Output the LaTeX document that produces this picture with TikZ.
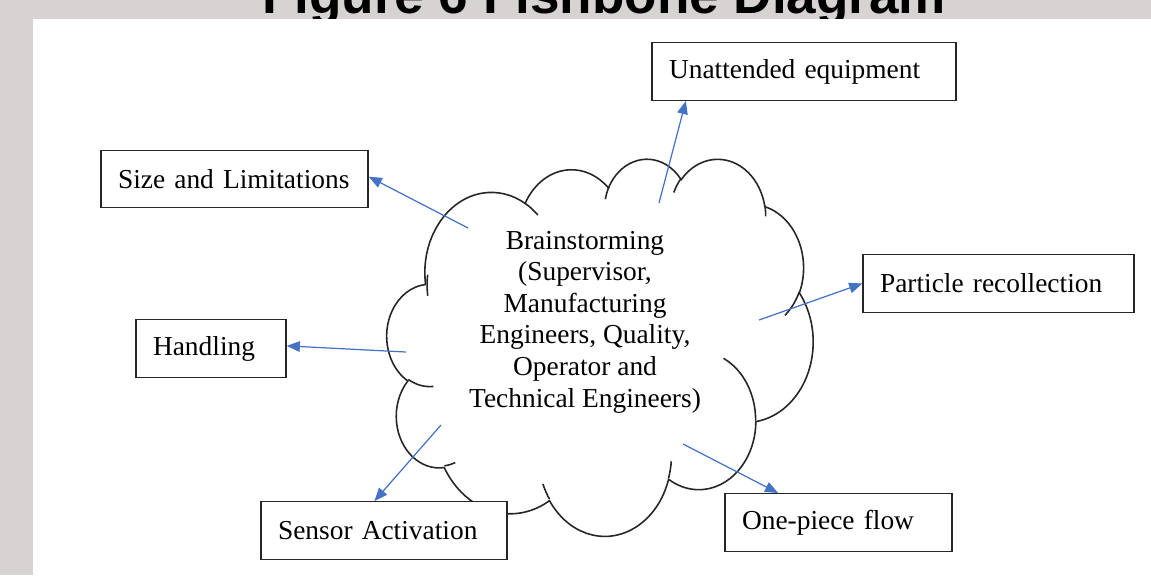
\documentclass[tikz,border=0pt]{standalone}
\usepackage{fontspec}
\setmainfont{Liberation Serif}
\newfontfamily\titlefont{Liberation Sans}
\usetikzlibrary{arrows.meta}
\definecolor{pagegray}{RGB}{215,211,211}
\definecolor{causeblue}{RGB}{68,114,196}
\def\cloudarc#1#2#3#4{arc[x radius=#1, y radius=#2, start angle={atan2(#1*sin(#3),#2*cos(#3))}, delta angle={mod(atan2(#1*sin(#3+#4),#2*cos(#3+#4))-atan2(#1*sin(#3),#2*cos(#3))+720,360)}]}
\tikzset{
	causebox/.style={draw=black!85, fill=white, line width=0.8pt, minimum height=1.15cm, inner xsep=0.34cm, text width=#1, align=left, font=\fontsize{15.6}{18}\selectfont},
	causearrow/.style={draw=causeblue, line width=0.7pt, -{Triangle[length=7.5pt, width=6pt]}}
}

\begin{document}
\begin{tikzpicture}[x=0.02cm, y=-0.02cm]
			%%%%% START %%%%%
			
			\clip (0, 0) rectangle (1151, 575);
			\fill[pagegray] (0, 0) rectangle (1151, 575);
			\node[font=\titlefont\bfseries\fontsize{30.2}{36}\selectfont, anchor=base] (title) at (604, 13.3) {Figure 6 Fishbone Diagram};
			\fill[white] (33, 19) rectangle (1151, 575);
			
			% cloud
			\begin{scope}[shift={(387, 158)}, xscale=9.861, yscale=8.727, line width=0.9pt, draw=black!85]
				\draw[fill=white] (3.900, 14.370) \cloudarc{6.753}{9.190}{-190.4875}{123.7805}
					\cloudarc{5.333}{7.267}{-144.1024}{89.9452}
					\cloudarc{4.365}{5.945}{-145.8079}{99.7230}
					\cloudarc{4.857}{6.595}{-130.9861}{117.2417}
					\cloudarc{5.333}{7.273}{-78.7089}{109.0269}
					\cloudarc{6.775}{9.220}{-46.2673}{130.2690}
					\cloudarc{5.785}{7.867}{0.6250}{114.0333}
					\cloudarc{6.752}{9.215}{22.4516}{115.1726}
					\cloudarc{7.720}{10.543}{66.2426}{75.7110}
					\cloudarc{4.360}{5.918}{-274.9421}{146.7356}
					\cloudarc{4.345}{5.945}{-246.8285}{152.5189} -- cycle;
				\draw (4.693, 26.177) \cloudarc{4.345}{5.945}{86.7420}{26.4295};
				\draw (6.928, 34.899) \cloudarc{4.360}{5.918}{73.6105}{11.4475};
				\draw (16.478, 39.090) \cloudarc{6.752}{9.215}{137.6242}{14.0811};
				\draw (28.827, 34.751) \cloudarc{6.752}{9.215}{6.4533}{15.9984};
				\draw (34.129, 22.954) \cloudarc{5.785}{7.867}{-70.2924}{70.9174};
				\draw (41.798, 15.354) \cloudarc{5.333}{7.273}{30.3180}{27.7515};
				\draw (38.324, 5.426) \cloudarc{4.857}{6.595}{-13.7443}{14.8589};
				\draw (29.078, 3.952) \cloudarc{4.857}{6.595}{-149.1815}{18.1954};
				\draw (22.141, 4.720) \cloudarc{4.365}{5.945}{-163.4943}{17.6864};
				\draw (14.000, 5.192) \cloudarc{6.753}{9.190}{-66.7070}{12.3194};
				\draw (4.127, 15.789) \cloudarc{6.753}{9.190}{-190.4875}{20.4388};
			\end{scope}
			
			\node[align=center, font=\fontsize{15.6}{18}\selectfont] (brain) at (585, 322) {Brainstorming\\(Supervisor,\\Manufacturing\\Engineers, Quality,\\Operator and\\Technical Engineers)};
			
			% causes
			\node[causebox=4.66cm] (size) at (234.5, 179) {Size and Limitations};
			\node[causebox=2.32cm] (hand) at (211, 348.5) {Handling};
			\node[causebox=4.24cm] (sens) at (384, 530.5) {Sensor Activation};
			\node[causebox=5.40cm] (unatt) at (804, 71.5) {Unattended equipment};
			\node[causebox=4.74cm] (part) at (998.5, 283.5) {Particle recollection};
			\node[causebox=3.86cm] (one) at (838.5, 522.5) {One-piece flow};
			
			\coordinate (sizeFrom) at (468, 228);
			\coordinate (handFrom) at (406, 352);
			\coordinate (sensFrom) at (441, 425);
			\coordinate (unattFrom) at (659, 203);
			\coordinate (partFrom) at (759, 320);
			\coordinate (oneFrom) at (683, 444);
			
			\draw[causearrow] (sizeFrom) -- (size.1.3);
			\draw[causearrow] (handFrom) -- (hand.2.6);
			\draw[causearrow] (sensFrom) -- (sens.108.7);
			\draw[causearrow] (unattFrom) -- (unatt.194.4);
			\draw[causearrow] (partFrom) -- (part.west);
			\draw[causearrow] (oneFrom) -- (one.154.4);
			
			%%%%% END %%%%%
\end{tikzpicture}
\end{document}
